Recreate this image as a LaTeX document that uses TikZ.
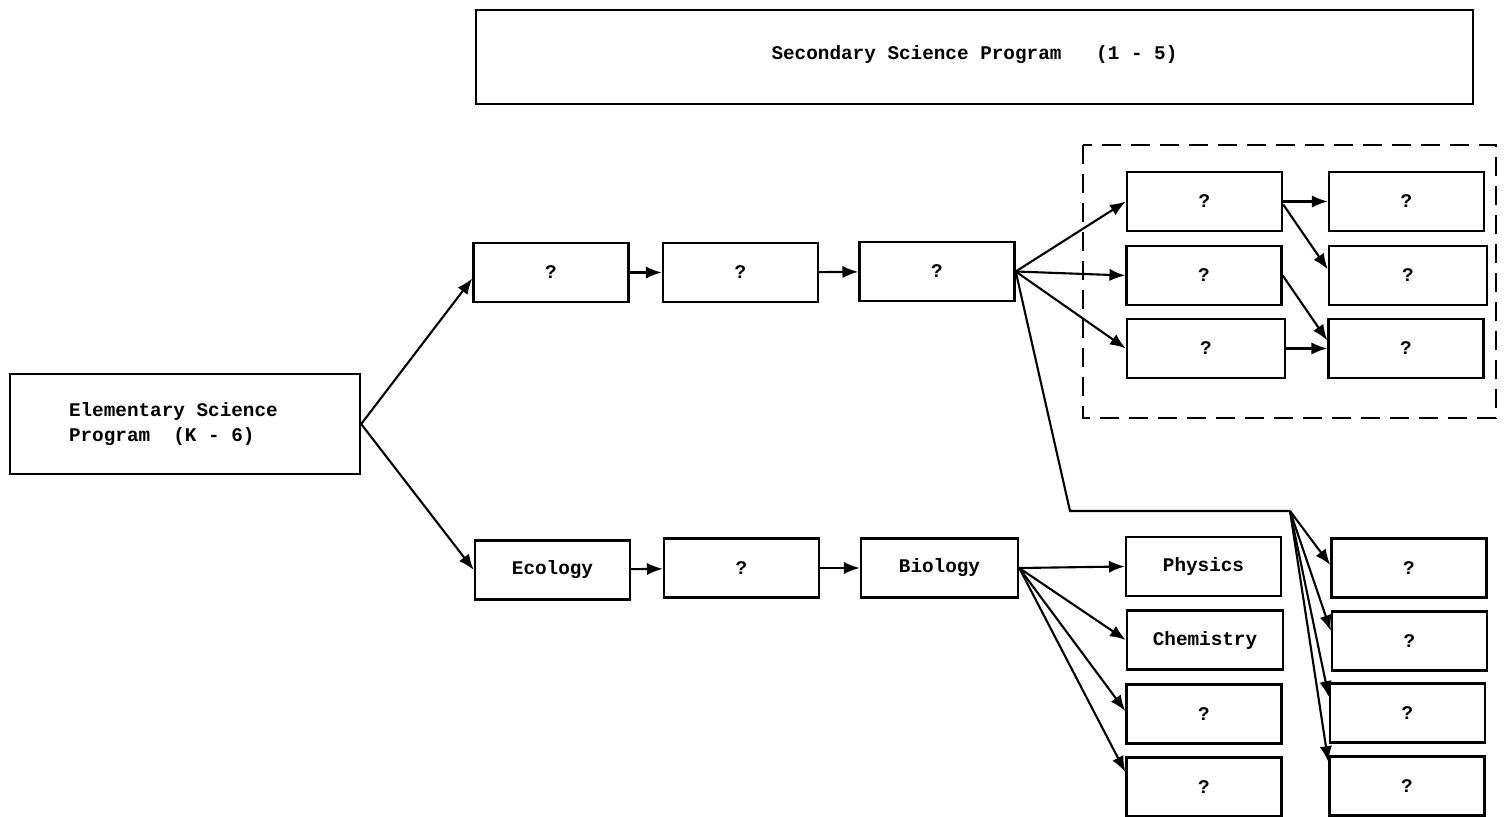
\documentclass[tikz,border=0pt]{standalone}
\usepackage{fontspec}
\setmonofont{Liberation Mono}
\usetikzlibrary{arrows.meta}
\begin{document}
\begin{tikzpicture}[x=0.02cm,y=-0.02cm,
  box/.style={draw, line width=1.4pt, inner sep=0pt, minimum width=3.1cm, minimum height=1.18cm,
    font=\ttfamily\bfseries\fontsize{11}{14.5}\selectfont},
  arr/.style={line width=1.2pt, -{Latex[length=9pt,width=7pt]}},
  ln/.style={line width=1.2pt},
  grp/.style={draw, line width=1.4pt, dash pattern=on 11pt off 5.5pt}]
\useasboundingbox (0,0) rectangle (1504,817);
% top banner
\node[box, minimum width=19.94cm, minimum height=1.88cm] (sec) at (974.5,57) {\raisebox{0.16cm}{Secondary Science Program\ \ \ (1 - 5)}};
% elementary
\node[box, minimum width=7cm, minimum height=2cm, align=left] (elem) at (185,424) {Elementary Science\ \ \ \\Program\ \ (K - 6)};
% top row
\node[box] (A1) at (551,272.5) {?};
\node[box] (A2) at (740.5,272.5) {?};
\node[box] (A3) at (937,271.5) {?};
% dashed group
\draw[grp] (1083,145) rectangle (1496,418);
\node[box] (B1) at (1204.5,201.5) {?};
\node[box] (B2) at (1204,275.5) {?};
\node[box, minimum width=3.16cm] (B3) at (1206,348.5) {?};
\node[box] (C1) at (1406.5,201.5) {?};
\node[box, minimum width=3.16cm] (C2) at (1408,275.5) {?};
\node[box] (C3) at (1406,348.5) {?};
% bottom row
\node[box] (D1) at (552.5,570) {Ecology};
\node[box] (D2) at (741.5,568) {?};
\node[box, minimum width=3.14cm] (D3) at (939.5,568) {Biology};
\node[box] (E1) at (1203.5,566.5) {Physics};
\node[box, minimum width=3.12cm] (E2) at (1205,640) {Chemistry};
\node[box] (E3) at (1204,714) {?};
\node[box] (E4) at (1204,787) {?};
\node[box] (F1) at (1409,568) {?};
\node[box] (F2) at (1409.5,641) {?};
\node[box] (F3) at (1407.5,713) {?};
\node[box] (F4) at (1407,786) {?};
% connectors
\draw[arr] (elem.east) -- ([yshift=-0.12cm]A1.west);
\draw[arr] (elem.east) -- (D1.west);
\draw[arr] (A1) -- (A2);
\draw[arr] (A2) -- (A3);
\draw[arr] (A3.east) -- (B1.west);
\draw[arr] (A3.east) -- (B2.west);
\draw[arr] (A3.east) -- (B3.west);
\draw[arr] (B1.east) -- (C1.west);
\draw[arr] ([yshift=-0.06cm]B1.east) -- ([yshift=0.12cm]C2.west);
\draw[arr] (B2.east) -- ([yshift=0.16cm]C3.west);
\draw[arr] (B3.east) -- (C3.west);
\coordinate (bend) at (1070,511);
\coordinate (hub) at (1290,511);
\draw[ln] (A3.east) -- (bend) -- (hub);
\draw[arr] (hub) -- ([yshift=0.06cm]F1.west);
\draw[arr] (hub) -- ([yshift=0.2cm]F2.west);
\draw[arr] (hub) -- ([yshift=0.32cm]F3.west);
\draw[arr] (hub) -- ([yshift=0.48cm]F4.west);
\draw[arr] (D1) -- (D2);
\draw[arr] (D2) -- (D3);
\draw[arr] (D3.east) -- (E1.west);
\draw[arr] (D3.east) -- (E2.west);
\draw[arr] (D3.east) -- ([yshift=0.06cm]E3.west);
\draw[arr] (D3.east) -- ([yshift=0.3cm]E4.west);
\end{tikzpicture}
\end{document}
